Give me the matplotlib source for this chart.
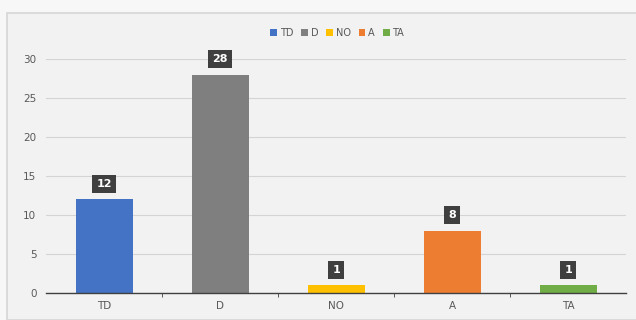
import matplotlib
matplotlib.use("Agg")
import matplotlib.pyplot as plt
from matplotlib.patches import Patch, Rectangle

categories = ["TD", "D", "NO", "A", "TA"]
values = [12, 28, 1, 8, 1]
colors = ["#4472C4", "#7F7F7F", "#FFC000", "#ED7D31", "#70AD47"]
yticks = [0, 5, 10, 15, 20, 25, 30]

bg = "#F2F2F2"
W, H = 636, 320
fig = plt.figure(figsize=(6.36, 3.2), dpi=100, facecolor="#F7F7F7")

# chart area panel with a faint outline
fig.patches.append(Rectangle((7 / W, 0), 1, 1 - 13 / H, transform=fig.transFigure,
                             facecolor=bg, edgecolor="#D6D6D6", linewidth=1.2, zorder=-5))

ax = fig.add_axes([0.0725, 0.0844, 0.912, 0.7312], facecolor=bg)
ax.set_zorder(2)

x = list(range(len(categories)))
ax.bar(x, values, width=0.49, color=colors, zorder=3)

for xi, v in zip(x, values):
    ax.annotate(str(v), (xi, v), xytext=(0, 11), textcoords="offset points",
                ha="center", va="center", color="white", fontsize=8,
                fontweight="bold", zorder=5,
                bbox=dict(boxstyle="square,pad=0.35", fc="#3F3F3F", ec="none"))

ax.set_xlim(-0.5, len(categories) - 0.5)
ax.set_ylim(0, 30)
ax.set_yticks(yticks)
ax.set_xticks(x)
ax.set_xticklabels(categories)
ax.set_xticks([i + 0.5 for i in x[:-1]], minor=True)
ax.tick_params(axis="x", which="major", length=0, colors="#595959", labelsize=7.5, pad=6)
ax.tick_params(axis="x", which="minor", length=3, color="#404040", direction="out")
ax.tick_params(axis="y", length=0, colors="#595959", labelsize=7.5, pad=7)
ax.grid(axis="y", color="#D4D4D4", linewidth=0.8, zorder=0)
for s in ["top", "right", "left"]:
    ax.spines[s].set_visible(False)
ax.spines["bottom"].set_color("#404040")
ax.spines["bottom"].set_linewidth(1.0)
ax.spines["bottom"].set_zorder(4)

handles = [Patch(facecolor=c, label=l) for c, l in zip(colors, categories)]
leg = fig.legend(handles=handles, loc="center", bbox_to_anchor=(0.53, 0.897), ncol=5,
                 frameon=False, fontsize=7, handlelength=0.7, handleheight=0.7,
                 handletextpad=0.3, columnspacing=0.8, labelcolor="#595959")
leg.set_zorder(3)

fig.savefig("out.png", dpi=100, facecolor=fig.get_facecolor())
